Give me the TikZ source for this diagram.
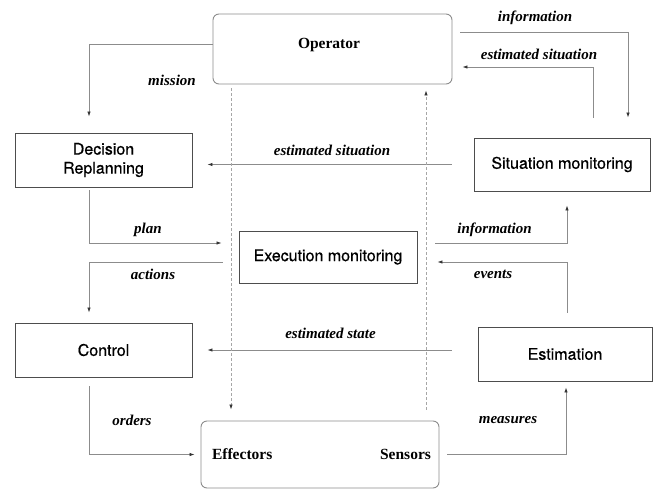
\documentclass[tikz,border=0pt]{standalone}
\usepackage{fontspec}
\setmainfont{Liberation Serif}
\setsansfont{TeX Gyre Heros}
\newfontfamily\boxfont[FakeBold=0.6]{TeX Gyre Heros}
\usetikzlibrary{arrows.meta, positioning, calc}
\definecolor{mGray}{HTML}{8C8C8C}
\definecolor{mDark}{HTML}{4D4D4D}
\definecolor{mDash}{HTML}{A6A6A6}

\begin{document}
\begin{tikzpicture}[x=1pt, y=-1pt,
    blk/.style={draw=mDark, line width=0.9pt, align=center, inner sep=0pt,
      font=\boxfont\fontsize{16}{19}\selectfont},
    ubox/.style={draw=mGray, line width=0.9pt, rounded corners=6pt, inner sep=0pt},
    conn/.style={draw=mGray, line width=0.8pt,
      -{Latex[length=5pt, width=3.5pt, color=black!80]}},
    dconn/.style={conn, draw=mDash, dash pattern=on 3pt off 2pt},
    lbl/.style={font=\bfseries\itshape\fontsize{15}{18}\selectfont},
    srif/.style={font=\bfseries\fontsize{15.5}{18}\selectfont}]
  \useasboundingbox (0,0) rectangle (655,489);

  % boxes
  \node[ubox, minimum width=239pt, minimum height=70pt] (op) at (332.5,49) {};
  \node[srif] (optxt) at (329,45) {Operator};
  \node[blk, minimum width=177pt, minimum height=54pt] (dec) at (103.5,160) {Decision\\Replanning};
  \node[blk, minimum width=176pt, minimum height=53pt] (sit) at (562,164.5) {Situation monitoring};
  \node[blk, minimum width=178pt, minimum height=52pt] (exe) at (328,257) {Execution monitoring};
  \node[blk, minimum width=177pt, minimum height=54pt] (ctl) at (103.5,350) {Control};
  \node[blk, minimum width=174pt, minimum height=54pt] (est) at (565,354) {Estimation};
  \node[ubox, minimum width=238pt, minimum height=67pt] (dev) at (320,454.5) {};
  \node[srif, anchor=west] (eff) at ([xshift=8pt]dev.west) {Effectors};
  \node[srif, anchor=east] (sns) at ([xshift=-5pt]dev.east) {Sensors};

  % connectors
  \draw[conn, shorten >=16pt] ([yshift=5pt]op.west) -| ([xshift=-14.5pt]dec.north);
  \draw[conn, shorten <=8pt, shorten >=20pt] ([yshift=17pt]op.east) -| ([xshift=66pt]sit.north);
  \draw[conn, shorten <=20pt, shorten >=10pt] ([xshift=31pt]sit.north) |- ([yshift=-18pt]op.east);
  \draw[conn, shorten <=22pt, shorten >=15pt] (sit.west) -- (dec.east |- sit.west);
  \draw[conn, shorten <=3pt, shorten >=17pt] ([xshift=-14.5pt]dec.south) |- ([yshift=14pt]exe.west);
  \draw[conn, shorten <=16pt, shorten >=10pt] ([yshift=-5pt]exe.west) -| ([xshift=-14.5pt]ctl.north);
  \draw[conn, shorten <=18pt, shorten >=14pt] ([yshift=14pt]exe.east) -| ([xshift=5pt]sit.south);
  \draw[conn, shorten <=14pt, shorten >=20pt] ([xshift=2pt]est.north) |- ([yshift=-5pt]exe.east);
  \draw[conn, shorten <=26pt, shorten >=15pt] (est.west |- ctl.east) -- (ctl.east);
  \draw[conn, shorten <=9pt, shorten >=6pt] ([xshift=-14.5pt]ctl.south) |- (dev.west);
  \draw[conn, shorten <=8pt, shorten >=6pt] (dev.east) -| ([xshift=1pt]est.south);
  \draw[dconn, shorten <=4pt, shorten >=11pt] ([xshift=-101.5pt]op.south) -- ([xshift=-101.5pt]op.south |- dev.north);
  \draw[dconn, shorten <=11pt, shorten >=6pt] ([xshift=93.5pt]op.south |- dev.north) -- ([xshift=93.5pt]op.south);

  % labels
  \node[lbl] (l1) at (535,18) {information};
  \node[lbl] (l2) at (539,54) {estimated situation};
  \node[lbl] (l3) at (172,80) {mission};
  \node[lbl] (l4) at (332,150) {estimated situation};
  \node[lbl] (l5) at (148,230) {plan};
  \node[lbl] (l6) at (153,274) {actions};
  \node[lbl] (l7) at (494.5,230) {information};
  \node[lbl] (l8) at (493,274) {events};
  \node[lbl] (l9) at (330.5,333) {estimated state};
  \node[lbl] (l10) at (132,420) {orders};
  \node[lbl] (l11) at (508,420) {measures};
\end{tikzpicture}
\end{document}
